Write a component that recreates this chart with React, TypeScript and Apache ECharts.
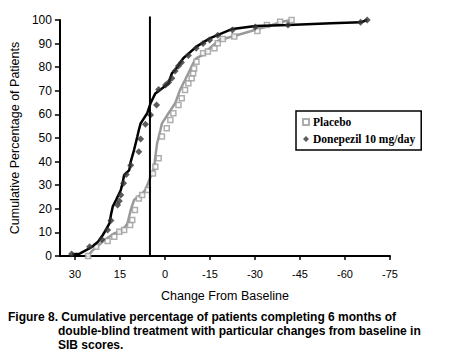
import React, { useEffect, useRef } from "react";
import * as echarts from "echarts";

// Change from baseline (x) vs cumulative % of patients (y)
const placeboCurve: [number, number][] = [
  [25.8, 0], [24.0, 2.5], [20.1, 6.8], [16.9, 9.6], [14.1, 11], [12.5, 13.8],
  [11.4, 19.5], [10.3, 23.7], [8.1, 25.8], [6.5, 28], [4.8, 33.6], [3.7, 36.4],
  [3.2, 42], [2.6, 47.8], [1.5, 53.4], [1.0, 56.2], [-1.2, 60.5], [-3.4, 64.7],
  [-5.0, 70.3], [-6.7, 74.6], [-7.8, 77.4], [-9.4, 81.7], [-10.5, 83.8],
  [-12.7, 85.2], [-14.9, 88], [-18.2, 91.5], [-22.5, 93], [-28, 95],
  [-32.4, 96.7], [-35.7, 97.9], [-39, 99.3], [-42.2, 100],
];

const placeboPoints: [number, number][] = [
  [25.6, 0], [22.9, 3.9], [19.1, 6.4], [16.9, 8.2], [15.2, 10.3], [13.6, 11],
  [11.6, 13.1], [10.9, 15.3], [10.0, 19.5], [8.7, 24.4], [7.6, 25.8], [5.7, 28],
  [4.0, 35], [3.2, 37.8], [2.1, 41.4], [1.0, 50.6], [-0.6, 54.1], [-1.8, 57.6],
  [-2.8, 60.5], [-4.5, 64], [-5.6, 66.8], [-6.7, 70.3], [-7.8, 73.2],
  [-8.9, 75.3], [-9.4, 77.4], [-9.7, 79.5], [-10.5, 82.3], [-12.7, 85.9],
  [-14.3, 86.6], [-16.5, 88], [-17.6, 90.1], [-19.3, 92], [-23.1, 93],
  [-30.8, 95.3], [-34, 97.9], [-38.4, 99.3], [-42.2, 100],
];

const donepezilCurve: [number, number][] = [
  [30.9, 0.7], [28.4, 1], [24.5, 3.7], [22.3, 6], [20.7, 8.9], [19.6, 11.3],
  [18.5, 13.8], [18.0, 17.4], [17.4, 20.9], [16.3, 23.7], [14.7, 28],
  [14.1, 31], [13.6, 34.3], [11.9, 36.4], [11.4, 40], [10.3, 44.9],
  [9.2, 50.6], [8.7, 53.4], [8.1, 56.2], [5.9, 60.5], [4.8, 64.7], [3.2, 68.9],
  [1.0, 71], [-1.2, 73.2], [-2.3, 77.4], [-3.4, 78.8], [-6.1, 83.8],
  [-10.5, 88.7], [-14.9, 92.2], [-22.5, 96.2], [-30.2, 97.5], [-41.2, 97.9],
  [-55.4, 98.6], [-65.2, 99], [-67.4, 100],
];

const donepezilPoints: [number, number][] = [
  [31.1, 0.8], [25.1, 3.9], [21.0, 7], [19.1, 11], [18.0, 15], [15.8, 21.6],
  [15.2, 23.3], [14.7, 25.8], [13.8, 30.8], [12.9, 34.5], [11.4, 38.5],
  [8.7, 44.2], [8.1, 49.6], [6.5, 55.8], [4.8, 59.7], [2.8, 64], [2.1, 70.5],
  [-0.2, 72.5], [-1.2, 73.5], [-2.3, 75.3], [-3.4, 78.4], [-4.5, 80.5],
  [-5.5, 82], [-7.8, 85], [-10.4, 88], [-12.7, 90], [-14.9, 91.5],
  [-17.6, 93.5], [-22.5, 95.8], [-30.1, 97], [-41, 97.9], [-65.2, 99],
  [-67.4, 100],
];

const referenceLine: [number, number][] = [[5, 0], [5, 101.5]];

const seriesNames = ["Placebo", "Donepezil 10 mg/day"];
const xAxisTitle = "Change From Baseline";
const yAxisTitle = "Cumulative Percentage of Patients";
const captionLines = [
  "Figure 8. Cumulative percentage of patients completing 6 months of",
  "double-blind treatment with particular changes from baseline in",
  "SIB scores.",
];

const SANS = "Arial, 'Liberation Sans', sans-serif";
const SERIF = "'Times New Roman', 'Liberation Serif', serif";

export default function App() {
  const ref = useRef<HTMLDivElement>(null);
  useEffect(() => {
    const chart = echarts.init(ref.current!, null, { renderer: "svg" });
    chart.setOption({
      animation: false,
      backgroundColor: "#ffffff",
      grid: { left: 55, right: 69, top: 20, bottom: 99, containLabel: false },
      xAxis: {
        type: "value",
        inverse: true,
        min: -75,
        max: 35,
        interval: 15,
        name: xAxisTitle,
        nameLocation: "middle",
        nameGap: 33,
        nameTextStyle: { fontFamily: SANS, fontSize: 12.5, color: "#000" },
        axisLine: { onZero: false, lineStyle: { color: "#000", width: 2 } },
        axisTick: { show: true, length: 4, lineStyle: { color: "#000", width: 1.5 } },
        axisLabel: { showMaxLabel: false, fontFamily: SANS, fontSize: 11, color: "#000", margin: 12 },
        splitLine: { show: false },
      },
      yAxis: {
        type: "value",
        min: 0,
        max: 100,
        interval: 10,
        name: yAxisTitle,
        nameLocation: "middle",
        nameGap: 36,
        nameRotate: 90,
        nameTextStyle: { fontFamily: SANS, fontSize: 12.5, color: "#000" },
        axisLine: { show: true, onZero: false, lineStyle: { color: "#000", width: 2 } },
        axisTick: { show: true, length: 5, lineStyle: { color: "#000", width: 1.5 } },
        axisLabel: { fontFamily: SANS, fontSize: 12, color: "#000", margin: 8 },
        splitLine: { show: false },
      },
      legend: {
        orient: "vertical",
        left: 296,
        top: 111,
        data: seriesNames,
        borderColor: "#000",
        borderWidth: 1.5,
        padding: [5, 6, 5, 6],
        itemGap: 5,
        itemWidth: 6,
        itemHeight: 6,
        backgroundColor: "#fff",
        textStyle: { fontFamily: SERIF, fontWeight: "bold", fontSize: 11.5, color: "#000", padding: [0, 0, 0, -1] },
      },
      series: [
        {
          name: "Placebo curve",
          type: "line",
          data: placeboCurve,
          showSymbol: false,
          lineStyle: { color: "#9a9a9a", width: 2.5 },
          z: 2,
        },
        {
          name: seriesNames[0],
          type: "scatter",
          data: placeboPoints,
          symbol: "rect",
          symbolSize: 5,
          itemStyle: { color: "#fff", borderColor: "#9a9a9a", borderWidth: 1.5 },
          z: 3,
        },
        {
          name: "Donepezil curve",
          type: "line",
          data: donepezilCurve,
          showSymbol: false,
          lineStyle: { color: "#000", width: 2.5 },
          z: 4,
        },
        {
          name: seriesNames[1],
          type: "scatter",
          data: donepezilPoints,
          symbol: "diamond",
          symbolSize: 7,
          itemStyle: { color: "#333" },
          z: 5,
        },
        {
          name: "Reference",
          type: "line",
          data: referenceLine,
          showSymbol: false,
          clip: false,
          lineStyle: { color: "#000", width: 2 },
          z: 6,
        },
      ],
      graphic: [
        {
          type: "text",
          left: 8,
          top: 311,
          style: { text: captionLines[0], font: `bold 12px ${SANS}`, fill: "#000" },
        },
        {
          type: "text",
          left: 58,
          top: 325,
          style: { text: captionLines[1], font: `bold 12px ${SANS}`, fill: "#000" },
        },
        {
          type: "text",
          left: 58,
          top: 339,
          style: { text: captionLines[2], font: `bold 12px ${SANS}`, fill: "#000" },
        },
      ],
    });
    return () => chart.dispose();
  }, []);
  return (
    <div
      ref={ref}
      style={{ position: "fixed", left: 0, top: 0, width: 459, height: 355, background: "#fff" }}
    />
  );
}
